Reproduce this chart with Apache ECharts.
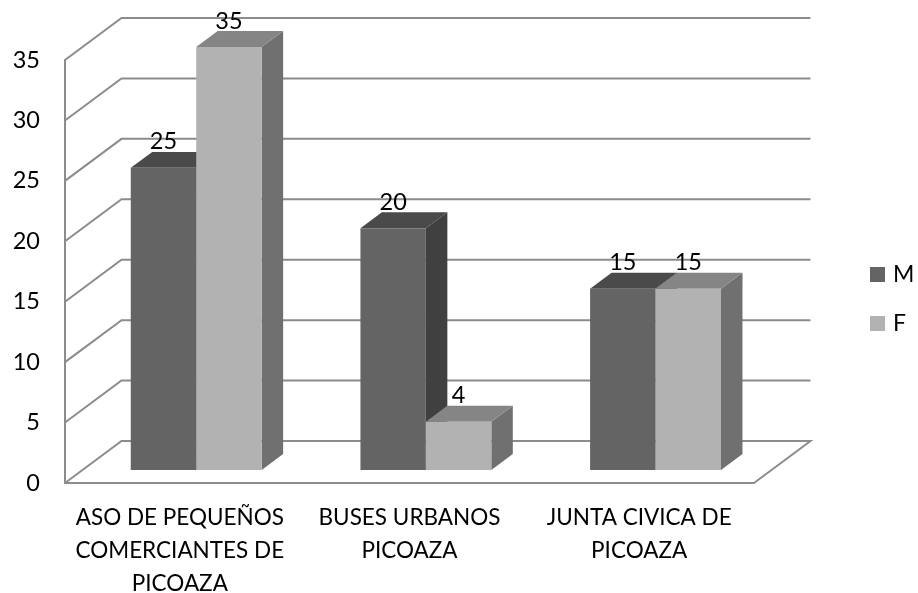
<!DOCTYPE html>
<html>
<head>
<meta charset="utf-8">
<style>html,body{margin:0;padding:0;background:#fff}#c{width:918px;height:593px}</style>
<script src="https://cdn.jsdelivr.net/npm/echarts@6/dist/echarts.min.js"></script>
</head>
<body>
<div id="c"></div>
<script>
var categories = ['ASO DE PEQUEÑOS\nCOMERCIANTES DE\nPICOAZA', 'BUSES URBANOS\nPICOAZA', 'JUNTA CIVICA DE\nPICOAZA'];
var valuesM = [25, 20, 15];
var valuesF = [35, 4, 15];
var yTicks = [0, 5, 10, 15, 20, 25, 30, 35];

var FONT = 'Lato, Carlito, "Open Sans", sans-serif';
var DEPTH_X = 56.5, DEPTH_Y = -42;      // front plane to back wall
var NEAR_X = 0.29, NEAR_Y = 0.31;       // where the bar front stands on the floor
var SPAN = 0.38;                        // bar depth as share of the floor depth
var BAR_SHARE = 0.285;                  // bar width as share of a category band
var GRID_COLOR = '#8c8c8c';

function wallItem(params, api) {
  var g = params.coordSys;
  var p = api.coord([0, api.value(0)]);
  var y = p[1];
  var left = g.x, right = g.x + g.width;
  var pts = [[left, y], [left + DEPTH_X, y + DEPTH_Y], [right + DEPTH_X, y + DEPTH_Y]];
  if (api.value(0) === 0) pts.push([right, y]);
  return {
    type: 'polyline',
    shape: { points: pts },
    style: { stroke: GRID_COLOR, lineWidth: 2, fill: 'none' },
    silent: true
  };
}

function barRenderer(offsetSign, colors) {
  return function (params, api) {
    var idx = api.value(0), val = api.value(1);
    var top = api.coord([idx, val]);
    var base = api.coord([idx, 0]);
    var band = api.size([1, 0])[0];
    var w = band * BAR_SHARE;
    var sx = DEPTH_X * NEAR_X, sy = DEPTH_Y * NEAR_Y;
    var dx = DEPTH_X * SPAN, dy = DEPTH_Y * SPAN;
    var x0 = top[0] + sx + (offsetSign < 0 ? -w : 0);
    var x1 = x0 + w;
    var yT = top[1] + sy, yB = base[1] + sy;
    return {
      type: 'group',
      children: [
        { type: 'polygon', shape: { points: [[x1, yT], [x1 + dx, yT + dy], [x1 + dx, yB + dy], [x1, yB]] },
          style: { fill: colors.side } },
        { type: 'polygon', shape: { points: [[x0, yT], [x0 + dx, yT + dy], [x1 + dx, yT + dy], [x1, yT]] },
          style: { fill: colors.top } },
        { type: 'rect', shape: { x: x0, y: yT, width: w, height: yB - yT },
          style: { fill: colors.front } },
        { type: 'text', z2: 100, style: { x: x0 + w / 2, y: yT - 26, text: String(val), fill: '#000',
            font: '23.5px ' + FONT, align: 'center', verticalAlign: 'middle' } }
      ]
    };
  };
}

var chart = echarts.init(document.getElementById('c'), null, { renderer: 'canvas' });
chart.setOption({
  animation: false,
  backgroundColor: '#fff',
  color: ['#646464', '#b2b2b2'],
  grid: { left: 65, right: 164, top: 60, bottom: 110, containLabel: false, outerBoundsMode: 'none' },
  legend: {
    data: ['M', 'F'], orient: 'vertical', left: 865, top: 258,
    itemWidth: 15, itemHeight: 15, itemGap: 26, icon: 'rect',
    textStyle: { color: '#000', fontFamily: FONT, fontSize: 23, padding: [0, 0, 0, 3] }
  },
  xAxis: {
    type: 'category', data: categories,
    axisTick: { show: false },
    axisLine: { lineStyle: { color: GRID_COLOR, width: 2 } },
    splitLine: { show: false },
    axisLabel: { color: '#000', fontFamily: FONT, fontSize: 22.5, lineHeight: 33, margin: 18, interval: 0 }
  },
  yAxis: {
    type: 'value', min: 0, max: 35, interval: 5,
    axisLine: { show: true, lineStyle: { color: GRID_COLOR, width: 2 } },
    axisTick: { show: false },
    splitLine: { show: false },
    axisLabel: { color: '#000', fontFamily: FONT, fontSize: 23.5, margin: 25, padding: [2, 0, 0, 0] }
  },
  series: [
    { type: 'custom', name: 'wall', silent: true, clip: false, z: 1,
      data: yTicks.map(function (t) { return [t]; }), encode: { x: 0, y: 0 },
      renderItem: wallItem },
    { type: 'custom', name: 'M', clip: false, z: 2, itemStyle: { color: '#646464' },
      data: valuesM.map(function (v, i) { return [i, v]; }), encode: { x: 0, y: 1 },
      renderItem: barRenderer(-1, { front: '#646464', top: '#4a4a4a', side: '#404040' }) },
    { type: 'custom', name: 'F', clip: false, z: 3, itemStyle: { color: '#b2b2b2' },
      data: valuesF.map(function (v, i) { return [i, v]; }), encode: { x: 0, y: 1 },
      renderItem: barRenderer(1, { front: '#b2b2b2', top: '#858585', side: '#707070' }) }
  ]
});
</script>
</body>
</html>
